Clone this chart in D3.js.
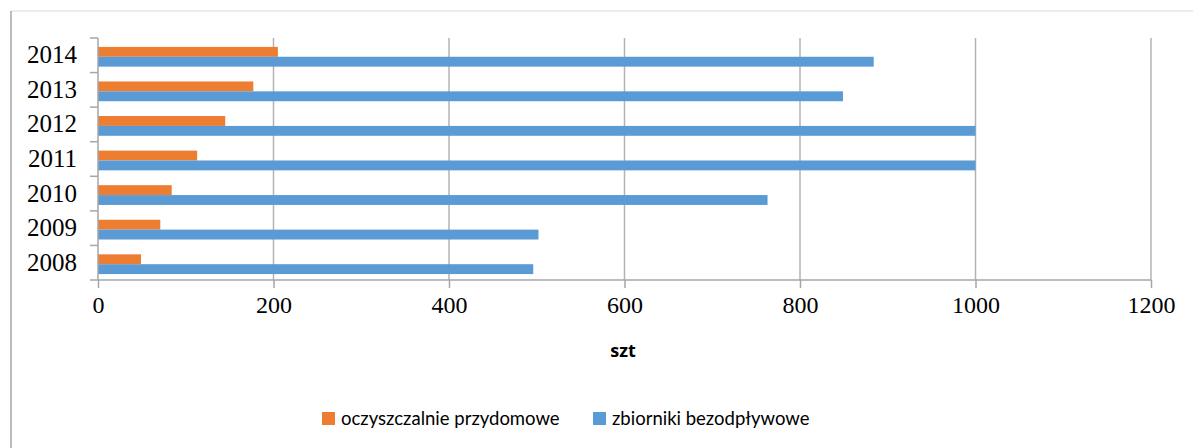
<!DOCTYPE html>
<html>
<head>
<meta charset="utf-8">
<script src="https://cdn.jsdelivr.net/npm/d3@7"></script>
<style>
  body { margin: 0; background: #fff; }
  svg { display: block; }
</style>
</head>
<body>
<svg id="canvas"></svg>
<script>
// data
const years = ['2008', '2009', '2010', '2011', '2012', '2013', '2014'];
const oczyszczalnie = [49, 71, 84, 113, 145, 177, 205];
const zbiorniki = [496, 502, 763, 1000, 1000, 849, 884];
const seriesNames = ['oczyszczalnie przydomowe', 'zbiorniki bezodpływowe'];
const seriesColors = ['#ED7D31', '#5B9BD5'];
const xTicks = [0, 200, 400, 600, 800, 1000, 1200];

const width = 1193;
const height = 448;

const plot = { left: 98, right: 1151, top: 38, bottom: 280 };

const canvas = d3.select('#canvas')
    .attr('width', width)
    .attr('height', height);

// chart frame (left + top edges visible)
canvas.append('line')
    .attr('x1', 11).attr('x2', width).attr('y1', 11).attr('y2', 11)
    .attr('stroke', '#d9d9d9').attr('stroke-width', 1);
canvas.append('line')
    .attr('x1', 11).attr('x2', 11).attr('y1', 11).attr('y2', height)
    .attr('stroke', '#a6a6a6').attr('stroke-width', 1.5);

const xScale = d3.scaleLinear()
    .domain([0, 1200])
    .range([plot.left, plot.right]);

// top-most category is the last year
const yScale = d3.scaleBand()
    .domain(years.slice().reverse())
    .range([plot.top, plot.bottom]);

// two bars per category, 150% gap split on both sides
const inner = d3.scaleBand()
    .domain([0, 1])
    .range([0, yScale.bandwidth()])
    .paddingInner(0)
    .paddingOuter(0.75)
    .align(0.6);

// gridlines
canvas.append('g')
    .selectAll('line')
    .data(xTicks.slice(1))
    .enter()
    .append('line')
    .attr('x1', d => xScale(d)).attr('x2', d => xScale(d))
    .attr('y1', plot.top).attr('y2', plot.bottom)
    .attr('stroke', '#b3b3b3').attr('stroke-width', 1.5);

// bars
const rows = years.map((y, i) => ({ year: y, vals: [oczyszczalnie[i], zbiorniki[i]] }));

const groups = canvas.append('g')
    .selectAll('g')
    .data(rows)
    .enter()
    .append('g')
    .attr('transform', d => 'translate(0,' + yScale(d.year) + ')');

groups.selectAll('rect')
    .data(d => d.vals.map((v, k) => ({ v: v, k: k })))
    .enter()
    .append('rect')
    .attr('x', xScale(0))
    .attr('y', d => inner(d.k))
    .attr('width', d => xScale(d.v) - xScale(0))
    .attr('height', inner.bandwidth())
    .attr('fill', d => seriesColors[d.k]);

// axes
const xAxis = d3.axisBottom(xScale)
    .tickValues(xTicks)
    .tickFormat(d3.format('d'))
    .tickSize(8)
    .tickSizeOuter(0)
    .tickPadding(8);

const gx = canvas.append('g')
    .attr('transform', 'translate(0,' + plot.bottom + ')')
    .call(xAxis);
gx.select('.domain').attr('stroke', '#a6a6a6').attr('stroke-width', 1.5)
    .attr('d', 'M' + (plot.left - 8) + ',0H' + plot.right);
gx.selectAll('.tick line').attr('stroke', '#a6a6a6').attr('stroke-width', 1.5);
gx.selectAll('.tick text')
    .attr('fill', '#000')
    .style('font-family', '"Liberation Serif", serif')
    .style('font-size', '24px');

const yAxis = d3.axisLeft(yScale)
    .tickSize(0)
    .tickPadding(21);

const gy = canvas.append('g')
    .attr('transform', 'translate(' + plot.left + ',0)')
    .call(yAxis);
gy.select('.domain').attr('stroke', '#a6a6a6').attr('stroke-width', 1.5)
    .attr('d', 'M0,' + plot.top + 'V' + plot.bottom);
gy.selectAll('.tick text')
    .attr('fill', '#000')
    .style('font-family', '"Liberation Serif", serif')
    .style('font-size', '25px');

// category boundary ticks
canvas.append('g')
    .selectAll('line')
    .data(years)
    .enter()
    .append('line')
    .attr('x1', plot.left - 8).attr('x2', plot.left)
    .attr('y1', d => yScale(d)).attr('y2', d => yScale(d))
    .attr('stroke', '#a6a6a6').attr('stroke-width', 1.5);

// axis title
canvas.append('text')
    .attr('x', 623)
    .attr('y', 357)
    .attr('text-anchor', 'middle')
    .style('font-family', '"Open Sans", sans-serif')
    .style('font-weight', 'bold')
    .style('font-size', '18px')
    .text('szt');

// legend
const legendX = [322, 593];
const legend = canvas.append('g')
    .selectAll('g')
    .data(seriesNames)
    .enter()
    .append('g')
    .attr('transform', (d, i) => 'translate(' + legendX[i] + ',412)');

legend.append('rect')
    .attr('width', 13)
    .attr('height', 13)
    .attr('fill', (d, i) => seriesColors[i]);

legend.append('text')
    .attr('x', 19)
    .attr('y', 13)
    .style('font-family', 'Lato, sans-serif')
    .style('font-size', '18.5px')
    .attr('fill', '#000')
    .text(d => d);
</script>
</body>
</html>
